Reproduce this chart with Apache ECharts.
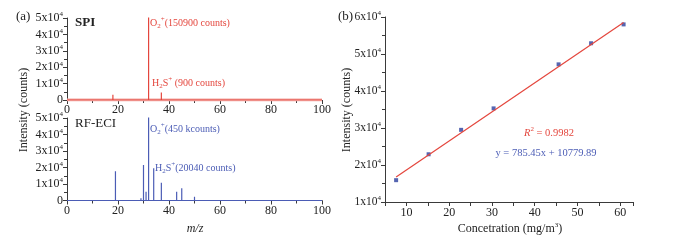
<!DOCTYPE html>
<html><head><meta charset="utf-8">
<script src="https://cdn.jsdelivr.net/npm/echarts@6/dist/echarts.min.js"></script>
<style>html,body{margin:0;padding:0;background:#fff}#c{width:687px;height:240px}</style>
</head><body><div id="c"></div>
<script>
// ---- data ----
var spiMz = [18, 30, 32, 34, 37, 43, 45, 57];
var spiCounts = [3200, 400, 150900, 1200, 4500, 500, 500, 200];
var eciMz = [14, 15, 16, 17, 19, 28, 29, 30, 31, 32, 33, 34, 37, 41, 43, 44, 45, 47, 48, 50, 55, 57, 58, 60, 65, 70, 73, 78, 85, 91, 97];
var eciCounts = [300, 400, 300, 500, 17800, 500, 1300, 21500, 5300, 52000, 1000, 19600, 10800, 600, 5300, 800, 7400, 600, 500, 2300, 300, 400, 300, 300, 250, 250, 200, 200, 200, 200, 200];
var concX = [7.6, 15.2, 22.8, 30.4, 45.6, 53.2, 60.8];
var concY = [15900, 22900, 29500, 35300, 47200, 52900, 58000];
var fitX = [7.6, 60.8];
var fitY = [16750, 58530];
var mzTicks = [0, 20, 40, 60, 80, 100];

var RED = '#e4463d', BLUE = '#4b5cb5', AX = '#3a3a3a';
var FONT = 'Liberation Serif';

function sticks(xs, ys) {
  var d = [[0, 0]];
  for (var i = 0; i < xs.length; i++) { d.push([xs[i], 0], [xs[i], ys[i]], [xs[i], 0]); }
  d.push([100, 0]);
  return d;
}
function pow4(v) {
  if (v === 0) return '0';
  return '{b|' + Math.round(v / 1e4) + 'x10}{s|4}';
}
function mkRich(fs) {
  return { b: { fontFamily: FONT, fontSize: fs, color: '#222', lineHeight: 14 }, s: { fontFamily: FONT, fontSize: 7, color: '#222', verticalAlign: 'top', lineHeight: 8, padding: [0, 0, 6, 0] } };
}

function mzAxis(idx) {
  return {
    type: 'value', gridIndex: idx, min: 0, max: 100, interval: 20,
    axisLine: { lineStyle: { color: AX } },
    axisTick: { lineStyle: { color: AX }, length: 4 },
    minorTick: { show: true, splitNumber: 2, length: 3, lineStyle: { color: AX } },
    splitLine: { show: false },
    axisLabel: { fontFamily: FONT, fontSize: 12, color: '#222', margin: 4,
      formatter: function (v) { return mzTicks.indexOf(v) >= 0 ? String(v) : ''; } }
  };
}
function intAxis(idx, min, max, margin, fs) {
  return {
    type: 'value', gridIndex: idx, min: min, max: max, interval: 10000,
    axisLine: { show: true, lineStyle: { color: AX } },
    axisTick: { show: true, lineStyle: { color: AX }, length: 4 },
    minorTick: { show: true, splitNumber: 2, length: 3, lineStyle: { color: AX } },
    splitLine: { show: false },
    axisLabel: { formatter: pow4, rich: mkRich(fs), margin: margin, fontFamily: FONT, fontSize: fs, color: '#222' }
  };
}
function txt(x, y, text, opt) {
  opt = opt || {};
  return {
    type: 'text', x: x, y: y, rotation: opt.rot || 0,
    style: {
      text: text, fill: opt.color || '#222', align: opt.align || 'left', verticalAlign: 'middle',
      font: (opt.style || '') + ' ' + (opt.weight || '') + ' ' + (opt.size || 12) + 'px "' + FONT + '"',
      rich: opt.rich
    }
  };
}
function chemRich(color, fs) {
  fs = fs || 10;
  return {
    n: { fontFamily: FONT, fontSize: fs, color: color, fill: color, lineHeight: 14 },
    sub: { fontFamily: FONT, fontSize: 7, color: color, fill: color, verticalAlign: 'bottom', lineHeight: 8, padding: [6, 0, 0, 0] },
    sup: { fontFamily: FONT, fontSize: 7, color: color, fill: color, verticalAlign: 'top', lineHeight: 8, padding: [0, 0, 6, 0] },
    i: { fontFamily: FONT, fontSize: fs, fontStyle: 'italic', color: color, fill: color, lineHeight: 14 },
    m: { fontFamily: FONT, fontSize: fs, color: color, fill: color, lineHeight: 14 }
  };
}

var chart = echarts.init(document.getElementById('c'), null, { renderer: 'canvas' });
chart.setOption({
  animation: false,
  backgroundColor: '#fff',
  grid: [
    { left: 67, right: 365, top: 18, bottom: 140 },
    { left: 67, right: 365, top: 118, bottom: 39.5 },
    { left: 385, right: 54, top: 17, bottom: 38 }
  ],
  xAxis: [
    mzAxis(0), mzAxis(1),
    {
      type: 'value', gridIndex: 2, min: 5, max: 63, interval: 5,
      axisLine: { lineStyle: { color: AX } },
      axisTick: { lineStyle: { color: AX }, length: 4 },
      splitLine: { show: false },
      axisLabel: { fontFamily: FONT, fontSize: 12, color: '#222', margin: 5,
        formatter: function (v) { return (v % 10 === 0) ? String(v) : ''; } }
    }
  ],
  yAxis: [intAxis(0, 0, 50000, 4, 12), intAxis(1, 0, 50000, 4, 12), intAxis(2, 10000, 60000, 4, 11.5)],
  series: [
    { type: 'line', xAxisIndex: 0, yAxisIndex: 0, data: [[0, 0], [100, 0]], showSymbol: false, silent: true,
      lineStyle: { color: '#f3a7a2', width: 3 } },
    { type: 'line', xAxisIndex: 0, yAxisIndex: 0, data: sticks(spiMz, spiCounts), showSymbol: false, clip: true,
      lineStyle: { color: RED, width: 1.2 } },
    { type: 'line', xAxisIndex: 1, yAxisIndex: 1, data: sticks(eciMz, eciCounts), showSymbol: false, clip: true,
      lineStyle: { color: BLUE, width: 1.2 } },
    { type: 'line', xAxisIndex: 2, yAxisIndex: 2, data: fitX.map(function (x, i) { return [x, fitY[i]]; }), showSymbol: false,
      lineStyle: { color: RED, width: 1.2 } },
    { type: 'scatter', xAxisIndex: 2, yAxisIndex: 2, data: concX.map(function (x, i) { return [x, concY[i]]; }),
      symbol: 'rect', symbolSize: 4, itemStyle: { color: '#2b3f9e' } }
  ],
  graphic: [
    txt(16, 17, '(a)', { size: 13 }),
    txt(24, 110, 'Intensity (counts)', { rot: Math.PI / 2, align: 'center', size: 12 }),
    txt(75, 23, 'SPI', { size: 13, weight: 'bold' }),
    txt(150, 23, '{n|O}{sub|2}{sup|+}{n|(150900 counts)}', { rich: chemRich(RED), color: RED }),
    txt(152, 83, '{n|H}{sub|2}{n|S}{sup|+}{n| (900 counts)}', { rich: chemRich(RED), color: RED }),
    txt(75, 124, 'RF-ECI', { size: 13 }),
    txt(150, 129, '{n|O}{sub|2}{sup|+}{n|(450 kcounts)}', { rich: chemRich(BLUE), color: BLUE }),
    txt(155, 168, '{n|H}{sub|2}{n|S}{sup|+}{n|(20040 counts)}', { rich: chemRich(BLUE), color: BLUE }),
    txt(195, 229, 'm/z', { align: 'center', style: 'italic', size: 12 }),
    txt(338, 17, '(b)', { size: 13 }),
    txt(347, 110, 'Intensity (counts)', { rot: Math.PI / 2, align: 'center', size: 12 }),
    txt(549, 133, '{i|R}{sup|2}{m| = 0.9982}', { align: 'center', rich: chemRich(RED, 10.5), color: RED }),
    txt(546, 153, 'y = 785.45x + 10779.89', { align: 'center', color: BLUE, size: 10.5 }),
    txt(510, 229, '{m|Concetration (mg/m}{sup|3}{m|)}', { align: 'center', rich: chemRich('#222', 12) })
  ]
});
</script></body></html>
